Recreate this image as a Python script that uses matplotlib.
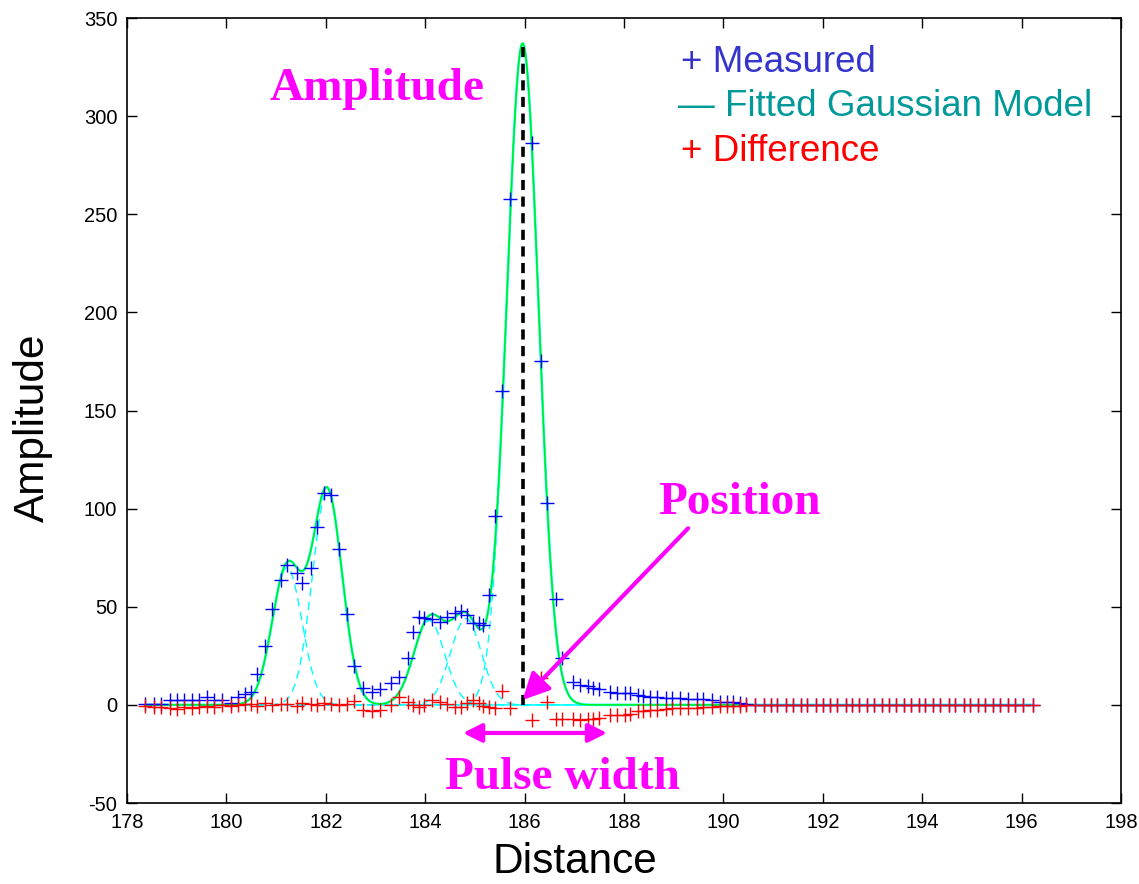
import numpy as np
import matplotlib
matplotlib.use("Agg")
import matplotlib.pyplot as plt
from matplotlib import font_manager

# ------------------------------
# data
# ------------------------------
distance = [178.36, 178.54, 178.68, 178.87, 179.01, 179.15, 179.31, 179.45, 179.61, 179.75,
            179.91, 180.09, 180.23, 180.37, 180.50, 180.62, 180.78, 180.92, 181.10, 181.22,
            181.42, 181.52, 181.70, 181.82, 181.96, 182.10, 182.27, 182.43, 182.57, 182.75,
            182.93, 183.09, 183.31, 183.47, 183.65, 183.75, 183.88, 183.98, 184.14, 184.30,
            184.44, 184.60, 184.72, 184.84, 184.96, 185.08, 185.16, 185.28, 185.40, 185.55,
            185.71, 186.15, 186.33, 186.45, 186.63, 186.75, 186.97, 187.11, 187.28, 187.38,
            187.50, 187.72, 187.86, 188.02, 188.12, 188.28, 188.38, 188.52, 188.66, 188.85,
            188.97, 189.13, 189.29, 189.47, 189.59, 189.77, 189.93, 190.07, 190.19, 190.33,
            190.46, 190.64, 190.82, 190.96, 191.08, 191.26, 191.40, 191.56, 191.68, 191.86,
            192.00, 192.15, 192.29, 192.47, 192.59, 192.73, 192.89, 193.03, 193.19, 193.33,
            193.47, 193.63, 193.77, 193.94, 194.06, 194.22, 194.36, 194.54, 194.66, 194.84,
            194.96, 195.12, 195.26, 195.42, 195.57, 195.73, 195.87, 196.03, 196.22]

measured = [0.7, 0.7, 0.7, 2.4, 2.4, 2.4, 2.4, 2.4, 3.8, 2.4,
            2.4, 1.0, 3.8, 5.5, 6.5, 15.5, 30.0, 48.7, 63.6, 71.3,
            67.1, 62.3, 69.9, 90.8, 108.1, 107.0, 79.3, 46.3, 19.8, 8.5,
            6.7, 8.0, 11.0, 14.1, 23.7, 37.3, 44.6, 44.1, 43.6, 42.4,
            44.9, 47.0, 48.0, 46.0, 41.9, 41.6, 40.7, 56.0, 96.3, 160.0,
            258.0, 286.3, 175.0, 102.8, 54.0, 24.0, 11.8, 10.1, 9.6, 8.8,
            8.3, 6.7, 6.2, 6.2, 5.9, 5.0, 4.7, 4.2, 4.2, 3.4,
            3.4, 3.4, 2.9, 2.9, 2.9, 2.5, 1.6, 1.6, 1.3, 1.1,
            0.5, 0, 0, 0, 0, 0, 0, 0, 0, 0,
            0, 0, 0, 0, 0, 0, 0, 0, 0, 0,
            0, 0, 0, 0, 0, 0, 0, 0, 0, 0,
            0, 0, 0, 0, 0, 0, 0, 0, 0]

difference = [-0.5, -1.0, -1.0, -1.5, -2.0, -1.0, -1.5, -1.0, -0.5, -1.0,
              0.0, -0.5, 0.0, 0.5, 0.5, -0.5, 1.0, 0.0, 0.5, 0.5,
              -0.5, 1.0, 0.5, 0.0, 1.0, 0.5, 0.0, 0.5, 2.0, -2.5,
              -3.0, -2.6, 0.0, 4.2, 1.6, 0.0, -0.9, 0.0, 2.5, 1.6,
              0.5, -0.9, -1.0, 0.8, 2.5, 0.8, -0.6, -0.9, -1.6, 7.0,
              -1.6, -7.7, 13.5, 1.6, -7.0, -7.0, -7.0, -7.5, -7.0, -7.0,
              -6.5, -5.0, -5.0, -5.0, -4.5, -3.0, -3.0, -2.5, -2.5, -2.0,
              -1.7, -1.7, -1.7, -1.5, -1.3, -1.2, -0.6, -0.5, -0.5, -0.4,
              0, 0, 0, 0, 0, 0, 0, 0, 0, 0,
              0, 0, 0, 0, 0, 0, 0, 0, 0, 0,
              0, 0, 0, 0, 0, 0, 0, 0, 0, 0,
              0, 0, 0, 0, 0, 0, 0, 0, 0]

# fitted gaussian components (amplitude, position, width)
amplitudes = [70, 109, 43, 44, 337]
positions = [181.22, 182.03, 184.08, 184.82, 185.96]
widths = [0.30, 0.30, 0.31, 0.31, 0.32]

# ------------------------------
# fonts
# ------------------------------
names = {f.name for f in font_manager.fontManager.ttflist}
narrow = "Liberation Sans Narrow" in names
sans = "Liberation Sans Narrow" if narrow else "Liberation Sans"
tick_size = 17 if narrow else 14.5
label_size = 37 if narrow else 30.5
plt.rcParams["axes.unicode_minus"] = False

fig = plt.figure(figsize=(11.39, 8.84), dpi=100)
ax = fig.add_axes([0.1115, 0.0916, 0.8727, 0.888])

# model curves
xs = np.linspace(min(distance), max(distance), 2000)
comps = [a * np.exp(-(xs - p) ** 2 / (2 * w ** 2)) for a, p, w in zip(amplitudes, positions, widths)]
model = np.sum(comps, axis=0)
for c in comps:
    ax.plot(xs, c, color="#00ffff", lw=1.0, ls=(0, (6, 4)), zorder=2)
ax.plot(xs, model, color="#00ffff", lw=1.8, zorder=2)
last_meas = max(d for d, m in zip(distance, measured) if m > 0)
ax.plot(xs[xs <= last_meas], model[xs <= last_meas], color="#00ee00", lw=1.0, zorder=2)

# measured and difference
ax.plot(distance, measured, "+", color="#0000ff", ms=9.5, mew=1.0, zorder=3)
ax.plot(distance, difference, "+", color="#ff0000", ms=9.5, mew=1.0, zorder=3)

# peak position line
peak = int(np.argmax(amplitudes))
ax.plot([positions[peak], positions[peak]], [0, amplitudes[peak]], color="black",
        lw=2.6, ls=(0, (2.8, 1.8)), zorder=4)

# annotations
mag = "#ff00ff"
serif = dict(family="Liberation Serif", weight="bold", size=34, color=mag)
ax.text(183.03, 314, "Amplitude", ha="center", va="center", **serif)
ax.text(190.33, 103, "Position", ha="center", va="center", **serif)
ax.text(186.77, -37, "Pulse width", ha="center", va="center", **serif)
ax.annotate("", xy=(positions[peak], 2.5), xytext=(189.29, 90),
            arrowprops=dict(arrowstyle="-|>", color=mag, lw=3, mutation_scale=40,
                            shrinkA=0, shrinkB=0), zorder=5)
ax.annotate("", xy=(184.76, -14.3), xytext=(187.66, -14.3),
            arrowprops=dict(arrowstyle="<|-|>", color=mag, lw=3, mutation_scale=28,
                            shrinkA=0, shrinkB=0), zorder=5)

# legend-like texts
leg = dict(family="Liberation Sans", size=26.5, ha="left", va="center")
ax.text(189.15, 327.5, "+ Measured", color="#3535cc", **leg)
ax.text(189.09, 304.7, "\u2014 Fitted Gaussian Model", color="#009999", **leg)
ax.text(189.15, 281.8, "+ Difference", color="#ff0000", **leg)

ax.set_xlim(178, 198)
ax.set_ylim(-50, 350)
ax.set_xticks(range(178, 199, 2))
ax.set_yticks(range(-50, 351, 50))
ax.tick_params(direction="in", length=7, width=1, top=True, right=True,
               labelsize=tick_size)
ax.tick_params(axis="x", pad=7)
ax.tick_params(axis="y", pad=7)
for lab in ax.get_xticklabels() + ax.get_yticklabels():
    lab.set_family(sans)
for s in ax.spines.values():
    s.set_linewidth(1.2)

ax.set_xlabel("Distance", family=sans, size=label_size)
ax.set_ylabel("Amplitude", family=sans, size=label_size)
ax.xaxis.set_label_coords(0.4507, -0.075)
ax.xaxis.label.set_verticalalignment("center")
ax.yaxis.set_label_coords(-0.0946, 0.478)
ax.yaxis.label.set_verticalalignment("center")

fig.savefig("out.png", dpi=100)
